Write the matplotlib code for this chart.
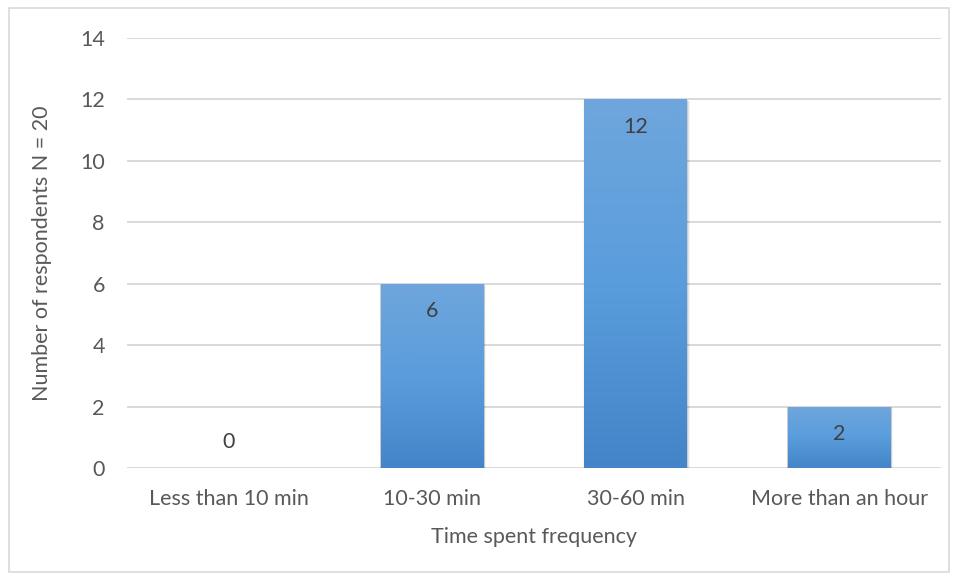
import numpy as np
import matplotlib.pyplot as plt
from matplotlib.patches import Rectangle
from matplotlib.colors import LinearSegmentedColormap

categories = ["Less than 10 min", "10-30 min", "30-60 min", "More than an hour"]
counts = [0, 6, 12, 2]
y_ticks = [0, 2, 4, 6, 8, 10, 12, 14]

plt.rcParams['font.family'] = ['Lato', 'DejaVu Sans']
text_color = '#595959'
grid_color = '#d9d9d9'
fs = 15.5

fig = plt.figure(figsize=(9.58, 5.79), dpi=100)
fig.patches.append(Rectangle((0.009, 0.012), 0.982, 0.974, transform=fig.transFigure,
                             fill=False, edgecolor='#d9d9d9', linewidth=1.2))
ax = fig.add_axes([0.1326, 0.1917, 0.8497, 0.7427])

x = np.arange(len(categories))
width = 0.506
ax.set_xlim(-0.5, len(categories) - 0.5)
ax.set_ylim(0, 14)

for t in y_ticks:
    ax.axhline(t, color=grid_color, linewidth=1.4, zorder=0)

cmap = LinearSegmentedColormap.from_list('bar', ['#4385c8', '#5a9ddc', '#6fa6dc'])
grad = np.linspace(0, 1, 256).reshape(-1, 1)

for xi, v in zip(x, counts):
    if v > 0:
        # soft drop shadow
        for k, a in enumerate([0.10, 0.07, 0.04]):
            off = 0.006 * (k + 1)
            ax.add_patch(Rectangle((xi - width / 2 - off * 0.3, -0.02 * (k + 1)), width + off, v,
                                   facecolor='#000000', alpha=a, edgecolor='none', zorder=1))
        rect = Rectangle((xi - width / 2, 0), width, v, facecolor='none', edgecolor='none', zorder=2)
        ax.add_patch(rect)
        im = ax.imshow(grad, extent=(xi - width / 2, xi + width / 2, 0, v), origin='lower',
                       cmap=cmap, aspect='auto', zorder=2)
        im.set_clip_path(rect)
        ax.text(xi, v - 0.9, str(v), ha='center', va='center', fontsize=fs, color='#404040', zorder=3)
    else:
        ax.text(xi, v + 0.85, str(v), ha='center', va='center', fontsize=fs, color='#404040', zorder=3)

ax.set_xlim(-0.5, len(categories) - 0.5)
ax.set_ylim(0, 14)
ax.set_xticks(x)
ax.set_xticklabels(categories)
ax.set_yticks(y_ticks)
ax.tick_params(axis='both', length=0, labelsize=fs, labelcolor=text_color)
ax.tick_params(axis='x', pad=15)
ax.tick_params(axis='y', pad=16)
for s in ax.spines.values():
    s.set_visible(False)

ax.set_xlabel("Time spent frequency", fontsize=fs, color=text_color, labelpad=13)
ax.set_ylabel("Number of respondents N = 20", fontsize=fs, color=text_color, labelpad=20)

fig.savefig('out.png', dpi=100)
